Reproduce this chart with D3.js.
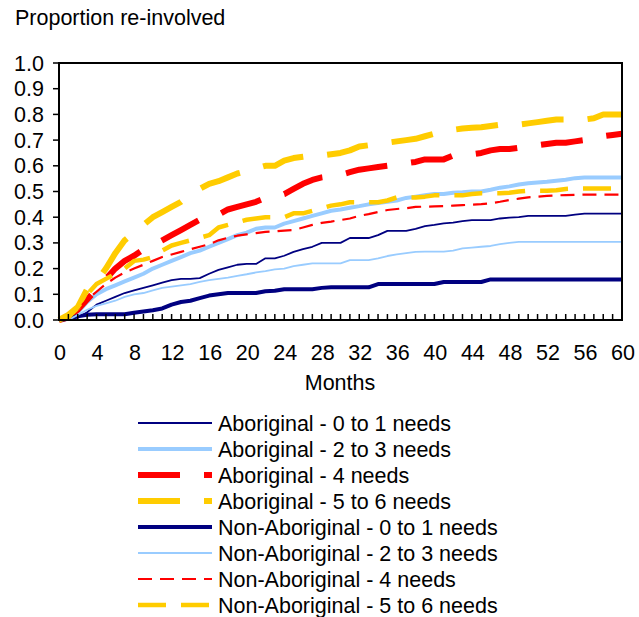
<!DOCTYPE html>
<html><head><meta charset="utf-8">
<script src="https://cdn.jsdelivr.net/npm/d3@7"></script>
<style>
html,body{margin:0;padding:0;background:#fff;}
svg text{font-family:"Liberation Sans",Arial,sans-serif;fill:#000;}
</style></head>
<body><svg id="chart" width="639" height="617"></svg>
<script>
const months = d3.range(0, 61);
const xTickLabels = [0,4,8,12,16,20,24,28,32,36,40,44,48,52,56,60];
const yTickLabels = ["0.0","0.1","0.2","0.3","0.4","0.5","0.6","0.7","0.8","0.9","1.0"];
const seriesNames = [
  "Aboriginal - 0 to 1 needs","Aboriginal - 2 to 3 needs","Aboriginal - 4 needs","Aboriginal - 5 to 6 needs",
  "Non-Aboriginal - 0 to 1 needs","Non-Aboriginal - 2 to 3 needs","Non-Aboriginal - 4 needs","Non-Aboriginal - 5 to 6 needs"
];
const ab01 = [0,0,0.01,0.03,0.06,0.075,0.09,0.105,0.115,0.125,0.135,0.145,0.155,0.16,0.16,0.163,0.18,0.195,0.205,0.215,0.218,0.218,0.24,0.24,0.25,0.265,0.276,0.285,0.3,0.3,0.3,0.319,0.319,0.319,0.33,0.347,0.347,0.347,0.355,0.365,0.37,0.376,0.379,0.385,0.389,0.389,0.389,0.395,0.398,0.4,0.405,0.405,0.405,0.405,0.405,0.41,0.414,0.414,0.414,0.414,0.414];
const ab23 = [0,0.005,0.03,0.07,0.1,0.12,0.135,0.15,0.165,0.18,0.2,0.215,0.23,0.245,0.26,0.27,0.285,0.3,0.315,0.33,0.34,0.355,0.36,0.36,0.375,0.385,0.395,0.405,0.415,0.425,0.43,0.437,0.443,0.45,0.455,0.46,0.465,0.475,0.48,0.485,0.49,0.49,0.495,0.497,0.5,0.5,0.507,0.515,0.52,0.527,0.532,0.535,0.538,0.542,0.546,0.552,0.554,0.554,0.554,0.554,0.554];
const ab4 = [0,0.01,0.04,0.08,0.12,0.16,0.2,0.23,0.25,0.275,0.29,0.31,0.33,0.35,0.37,0.39,0.4,0.41,0.43,0.44,0.45,0.46,0.475,0.48,0.49,0.51,0.53,0.545,0.555,0.56,0.565,0.575,0.585,0.59,0.595,0.6,0.605,0.61,0.615,0.625,0.625,0.625,0.64,0.642,0.645,0.65,0.66,0.665,0.665,0.67,0.675,0.68,0.685,0.69,0.69,0.695,0.7,0.705,0.715,0.72,0.725];
const ab56 = [0,0.02,0.05,0.12,0.15,0.2,0.26,0.31,0.34,0.37,0.4,0.42,0.44,0.46,0.49,0.51,0.53,0.54,0.555,0.57,0.58,0.59,0.6,0.6,0.62,0.63,0.635,0.64,0.64,0.645,0.65,0.66,0.675,0.68,0.685,0.69,0.695,0.7,0.705,0.715,0.725,0.735,0.74,0.745,0.748,0.75,0.755,0.76,0.76,0.76,0.765,0.77,0.775,0.78,0.78,0.78,0.78,0.785,0.8,0.8,0.8];
const nab01 = [0,0.005,0.015,0.02,0.022,0.022,0.022,0.022,0.028,0.033,0.038,0.045,0.06,0.07,0.075,0.085,0.095,0.1,0.105,0.105,0.105,0.105,0.112,0.114,0.12,0.12,0.12,0.12,0.125,0.127,0.127,0.127,0.127,0.127,0.14,0.14,0.14,0.14,0.14,0.14,0.14,0.148,0.148,0.148,0.148,0.148,0.158,0.158,0.158,0.158,0.158,0.158,0.158,0.158,0.158,0.158,0.158,0.158,0.158,0.158,0.158];
const nab23 = [0,0,0.02,0.04,0.055,0.065,0.075,0.09,0.1,0.105,0.115,0.125,0.13,0.135,0.14,0.148,0.155,0.16,0.165,0.172,0.178,0.185,0.19,0.197,0.2,0.21,0.215,0.22,0.22,0.22,0.22,0.233,0.233,0.233,0.24,0.249,0.255,0.26,0.265,0.266,0.266,0.266,0.27,0.279,0.282,0.285,0.288,0.295,0.3,0.304,0.304,0.304,0.304,0.304,0.304,0.304,0.304,0.304,0.304,0.304,0.304];
const nab4 = [0,0.005,0.04,0.08,0.11,0.14,0.165,0.185,0.2,0.215,0.23,0.245,0.255,0.265,0.275,0.285,0.295,0.31,0.32,0.328,0.333,0.338,0.343,0.345,0.348,0.35,0.36,0.37,0.378,0.383,0.389,0.395,0.405,0.412,0.42,0.428,0.432,0.435,0.44,0.441,0.442,0.443,0.445,0.447,0.449,0.451,0.454,0.46,0.467,0.472,0.477,0.48,0.483,0.485,0.486,0.487,0.488,0.488,0.488,0.488,0.488];
const nab56 = [0,0.01,0.05,0.1,0.14,0.16,0.18,0.2,0.23,0.235,0.245,0.27,0.29,0.3,0.31,0.32,0.33,0.36,0.37,0.38,0.39,0.395,0.4,0.4,0.4,0.415,0.415,0.425,0.435,0.445,0.45,0.458,0.458,0.458,0.458,0.465,0.477,0.477,0.477,0.48,0.485,0.485,0.485,0.485,0.49,0.493,0.493,0.493,0.495,0.5,0.503,0.503,0.503,0.505,0.51,0.512,0.512,0.512,0.512,0.512,0.512];
const seriesValues = [ab01, ab23, ab4, ab56, nab01, nab23, nab4, nab56];

const styles = [
  {color:"#000080", width:1.8, dash:null},
  {color:"#99CCFF", width:4, dash:null},
  {color:"#FF0000", width:6, dash:"42,24"},
  {color:"#FFCC00", width:6, dash:"42,24"},
  {color:"#000080", width:4, dash:null},
  {color:"#99CCFF", width:1.8, dash:null},
  {color:"#FF0000", width:2.2, dash:"14,8"},
  {color:"#FFCC00", width:4.5, dash:"28,15"}
];

const svg = d3.select("#chart");
const L = 59, R = 622, T = 63, B = 320;
const x = d3.scaleLinear().domain([0,60]).range([L,R]);
const y = d3.scaleLinear().domain([0,1]).range([B,T]);
const FS = 21.5;

svg.append("text").attr("x",15).attr("y",25).style("font-size",FS+"px").text("Proportion re-involved");

// series
const line = d3.line().x((d,i)=>x(months[i])).y(d=>y(d));
const g = svg.append("g");
seriesValues.forEach((vals,i)=>{
  const s = styles[i];
  g.append("path").attr("d", line(vals)).attr("fill","none")
    .attr("stroke", s.color).attr("stroke-width", s.width)
    .attr("stroke-dasharray", s.dash).attr("stroke-linejoin","round");
});

// frame
svg.append("rect").attr("x",L).attr("y",T).attr("width",R-L).attr("height",B-T)
  .attr("fill","none").attr("stroke","#000").attr("stroke-width",2);

// y axis ticks + labels
yTickLabels.forEach((lab,i)=>{
  const v = i/10;
  svg.append("line").attr("x1",L-6).attr("x2",L).attr("y1",y(v)).attr("y2",y(v)).attr("stroke","#000").attr("stroke-width",1.5);
  svg.append("text").attr("x",44).attr("y",y(v)).attr("dy","0.35em").attr("text-anchor","end").style("font-size",FS+"px").text(lab);
});
// x minor ticks
months.forEach(m=>{
  svg.append("line").attr("x1",x(m)).attr("x2",x(m)).attr("y1",B).attr("y2",B-6).attr("stroke","#000").attr("stroke-width",1.5);
});
xTickLabels.forEach(m=>{
  svg.append("text").attr("x",x(m)+1).attr("y",360).attr("text-anchor","middle").style("font-size",FS+"px").text(m);
});
svg.append("text").attr("x",340).attr("y",390).attr("text-anchor","middle").style("font-size",FS+"px").text("Months");

// legend
const lg = svg.append("g");
seriesNames.forEach((name,i)=>{
  const s = styles[i];
  const ly = 423 + i*26;
  lg.append("line").attr("x1",138).attr("x2",212).attr("y1",ly).attr("y2",ly)
    .attr("stroke",s.color).attr("stroke-width",s.width).attr("stroke-dasharray",s.dash);
  lg.append("text").attr("x",218).attr("y",ly).attr("dy","0.35em").style("font-size",FS+"px").text(name);
});
</script></body></html>
